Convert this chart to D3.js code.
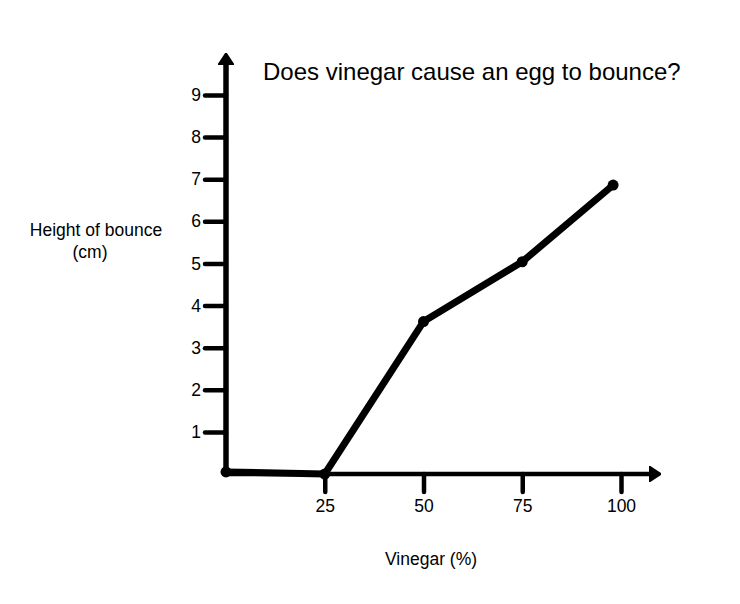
<!DOCTYPE html>
<html>
<head>
<meta charset="utf-8">
<script src="https://cdn.jsdelivr.net/npm/d3@7"></script>
<style>
  body { margin: 0; background: #fff; }
  text { font-family: "Liberation Sans", Arial, Helvetica, sans-serif; fill: #000; }
</style>
</head>
<body>
<script>
// data
var vinegar = [0, 25, 50, 75, 98];
var bounce = [0.05, 0, 3.62, 5.04, 6.86];
var xTicks = [25, 50, 75, 100];
var yTicks = [1, 2, 3, 4, 5, 6, 7, 8, 9];

var width = 740, height = 604;

var svg = d3.select("body").append("svg")
  .attr("width", width)
  .attr("height", height);

var x = d3.scaleLinear().domain([0, 100]).range([226, 621]);
var y = d3.scaleLinear().domain([0, 9]).range([474, 95]);

// arrow heads for the two axes
var defs = svg.append("defs");
defs.append("marker")
  .attr("id", "arrow")
  .attr("viewBox", "0 0 12 16")
  .attr("refX", 1)
  .attr("refY", 8)
  .attr("markerUnits", "userSpaceOnUse")
  .attr("markerWidth", 12)
  .attr("markerHeight", 16)
  .attr("orient", "auto")
  .append("path")
  .attr("d", "M0,0 L12,8 L0,16 Z")
  .attr("stroke", "#000")
  .attr("stroke-width", 1.5)
  .attr("stroke-linejoin", "round")
  .attr("fill", "#000");

// y axis
var yAxis = d3.axisLeft(y).tickValues(yTicks).tickSize(21).tickPadding(4);
var gy = svg.append("g")
  .attr("transform", "translate(" + x(0) + ",0)")
  .call(yAxis);
gy.select(".domain").remove();
gy.selectAll(".tick line")
  .attr("stroke", "#000")
  .attr("stroke-width", 4.5)
  .attr("stroke-linecap", "round");
gy.selectAll(".tick text")
  .attr("font-size", 17.5)
  .attr("font-family", null);

// x axis
var xAxis = d3.axisBottom(x).tickValues(xTicks).tickSize(18).tickPadding(8);
var gx = svg.append("g")
  .attr("transform", "translate(0," + y(0) + ")")
  .call(xAxis);
gx.select(".domain").remove();
gx.selectAll(".tick line")
  .attr("stroke", "#000")
  .attr("stroke-width", 4.5)
  .attr("stroke-linecap", "round");
gx.selectAll(".tick text")
  .attr("font-size", 17.5)
  .attr("font-family", null);

svg.append("line")
  .attr("x1", x(0)).attr("y1", y(0) + 2)
  .attr("x2", x(0)).attr("y2", 64)
  .attr("stroke", "#000")
  .attr("stroke-width", 5.5)
  .attr("marker-end", "url(#arrow)");

svg.append("line")
  .attr("x1", x(0)).attr("y1", y(0))
  .attr("x2", 650).attr("y2", y(0))
  .attr("stroke", "#000")
  .attr("stroke-width", 4.5)
  .attr("marker-end", "url(#arrow)");

// the data line
var pts = vinegar.map(function(d, i) { return [d, bounce[i]]; });

var line = d3.line()
  .x(function(d) { return x(d[0]); })
  .y(function(d) { return y(d[1]); });

svg.append("path")
  .datum(pts)
  .attr("d", line)
  .attr("fill", "none")
  .attr("stroke", "#000")
  .attr("stroke-width", 7)
  .attr("stroke-linejoin", "round");

svg.selectAll("circle.pt")
  .data(pts)
  .enter()
  .append("circle")
  .attr("class", "pt")
  .attr("cx", function(d) { return x(d[0]); })
  .attr("cy", function(d) { return y(d[1]); })
  .attr("r", 5.5)
  .attr("fill", "#000");

// titles
svg.append("text")
  .attr("x", 263)
  .attr("y", 80)
  .attr("font-size", 24)
  .text("Does vinegar cause an egg to bounce?");

svg.append("text")
  .attr("x", 96)
  .attr("y", 236)
  .attr("text-anchor", "middle")
  .attr("font-size", 17.5)
  .text("Height of bounce");

svg.append("text")
  .attr("x", 90)
  .attr("y", 258)
  .attr("text-anchor", "middle")
  .attr("font-size", 17.5)
  .text("(cm)");

svg.append("text")
  .attr("x", 431)
  .attr("y", 565)
  .attr("text-anchor", "middle")
  .attr("font-size", 17.5)
  .text("Vinegar (%)");
</script>
</body>
</html>
